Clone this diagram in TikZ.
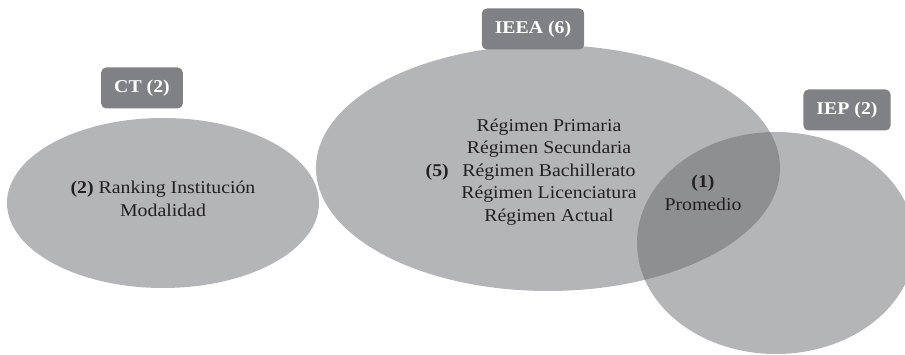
\documentclass[tikz,border=0pt]{standalone}
\usepackage{fontspec}
\setmainfont{Liberation Serif}[FakeStretch=1.1]
\usetikzlibrary{shapes.geometric}
\definecolor{setfill}{HTML}{B4B5B7}
\definecolor{overlapfill}{HTML}{8E8F91}
\definecolor{tagfill}{HTML}{808184}
\definecolor{ink}{HTML}{231F20}
\begin{document}
\begin{tikzpicture}[x=1pt,y=-1pt,
  setshape/.style={ellipse, fill=setfill, inner sep=0pt},
  tag/.style={fill=tagfill, rounded corners=5pt, text=white,
    font=\bfseries\fontsize{18}{20}\selectfont, inner xsep=13pt,
    minimum height=41pt},
  body/.style={text=ink, font=\fontsize{18}{22.5}\selectfont, align=center,
    inner sep=0pt}]
\useasboundingbox (0,0) rectangle (905,355);
\clip (0,0) rectangle (905,355);

% the three sets
\node[setshape, minimum width=312pt, minimum height=170pt] (ct) at (163,203) {};
\node[setshape, minimum width=464pt, minimum height=246pt] (ieea) at (548,168) {};
\node[setshape, minimum width=278pt, minimum height=222pt] (iep) at (776,243) {};

% shared region of IEEA and IEP
\begin{scope}
  \clip (548,168) ellipse [x radius=232pt, y radius=123pt];
  \fill[overlapfill] (776,243) ellipse [x radius=139pt, y radius=111pt];
\end{scope}

% set labels
\node[tag] (ctTag) at (142,88) {CT (2)};
\node[tag] (ieeaTag) at (533,29) {IEEA (6)};
\node[tag] (iepTag) at (847,110) {IEP (2)};

% set contents
\node[body] (ctText) at (163,199) {\textbf{(2)} Ranking Institución\\Modalidad};
\node[body] (ieeaText) at (549,172) {Régimen Primaria\\Régimen Secundaria\\Régimen Bachillerato\\Régimen Licenciatura\\Régimen Actual};
\node[body, anchor=east] (ieeaCount) at (449,172) {\textbf{(5)}};
\node[body] (sharedText) at (703,193) {\textbf{(1)}\\Promedio};
\end{tikzpicture}
\end{document}
